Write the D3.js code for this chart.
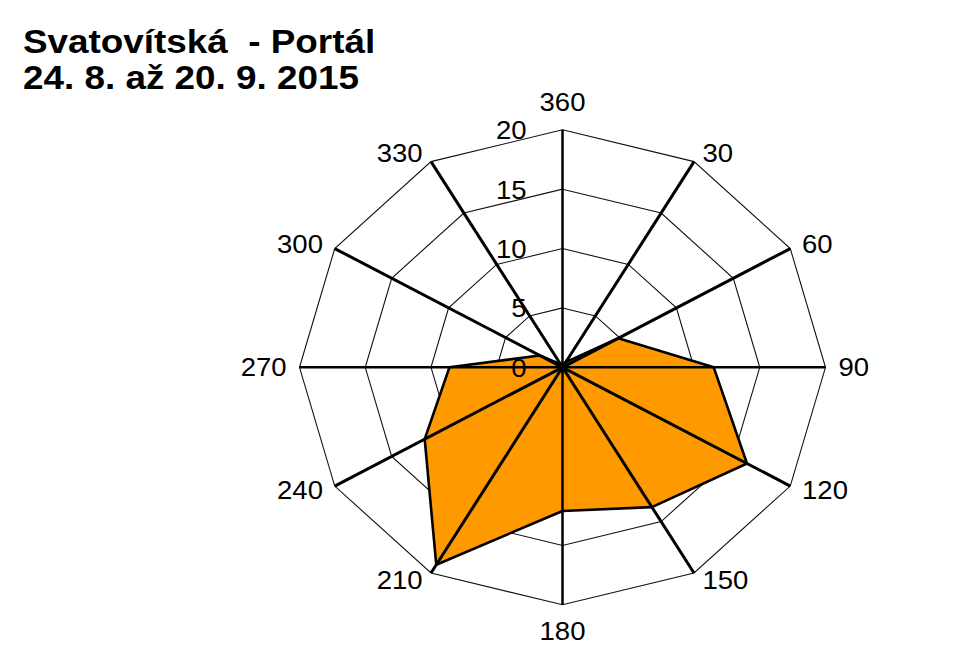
<!DOCTYPE html>
<html>
<head>
<meta charset="utf-8">
<script src="https://cdn.jsdelivr.net/npm/d3@7"></script>
<style>
  html, body { margin: 0; padding: 0; background: #fff; }
  svg { display: block; }
  text { font-family: "Liberation Sans", Arial, sans-serif; fill: #000; }
</style>
</head>
<body>
<svg id="chart" width="976" height="671"></svg>
<script>
// ---- data ----
const titleLines = ["Svatovítská  - Portál", "24. 8. až 20. 9. 2015"];
const directions = [0, 30, 60, 90, 120, 150, 180, 210, 240, 270, 300, 330];
const directionLabels = ["360", "30", "60", "90", "120", "150", "180", "210", "240", "270", "300", "330"];
const values = [0.3, 0.5, 4.9, 11.5, 16.2, 13.6, 12.1, 19.2, 12.1, 8.6, 2.0, 0.3];
const radialTicks = [0, 5, 10, 15, 20];

// ---- layout ----
const W = 976, H = 671;
const cx = 562.5, cy = 367.3;
const rMax = 20;
const sx = d3.scaleLinear().domain([0, rMax]).range([0, 263]);
const sy = d3.scaleLinear().domain([0, rMax]).range([0, 237.5]);
const stretch = 1.1;

const svg = d3.select("#chart");

function pt(deg, v) {
  const a = deg * Math.PI / 180;
  return [cx + sx(v) * Math.sin(a), cy - sy(v) * Math.cos(a)];
}

// title
const title = svg.append("g").attr("transform", `translate(23,0) scale(${stretch},1)`);
title.selectAll("text").data(titleLines).enter().append("text")
  .attr("x", 0)
  .attr("y", (d, i) => 53 + i * 36)
  .attr("font-size", 33.5)
  .attr("font-weight", "bold")
  .style("white-space", "pre")
  .attr("xml:space", "preserve")
  .text(d => d);

// rings (under polygon)
const ringLine = d3.line();
svg.append("g").selectAll("path").data(radialTicks.filter(t => t > 0)).enter().append("path")
  .attr("d", t => ringLine(directions.map(d => pt(d, t))) + "Z")
  .attr("fill", "none")
  .attr("stroke", "#111")
  .attr("stroke-width", 1.1);

// data polygon
svg.append("path")
  .attr("d", d3.line()(directions.map((d, i) => pt(d, values[i]))) + "Z")
  .attr("fill", "#ff9900")
  .attr("stroke", "#000")
  .attr("stroke-width", 2.6)
  .attr("stroke-linejoin", "round");

// spokes (over polygon)
svg.append("g").selectAll("line").data(directions).enter().append("line")
  .attr("x1", cx).attr("y1", cy)
  .attr("x2", d => pt(d, rMax)[0])
  .attr("y2", d => pt(d, rMax)[1])
  .attr("stroke", "#000")
  .attr("stroke-width", d => (d % 90 === 0 ? 2.5 : 3));

// radial tick labels
svg.append("g").selectAll("text").data(radialTicks).enter().append("text")
  .attr("transform", t => `translate(${cx - 36},${cy - sy(t) + 1}) scale(${stretch},1)`)
  .attr("text-anchor", "end")
  .attr("dominant-baseline", "central")
  .attr("font-size", 25)
  .text(t => t);

// direction labels
svg.append("g").selectAll("text").data(directions).enter().append("text")
  .each(function (d, i) {
    const a = d * Math.PI / 180;
    const [vx, vy] = pt(d, rMax);
    const s = Math.sin(a), c = Math.cos(a);
    let x, y, anchor;
    if (Math.abs(s) < 1e-6) {
      x = vx; anchor = "middle";
      y = vy + (c > 0 ? -27 : 27);
    } else {
      const off = 4 + 9 * Math.abs(s);
      x = vx + (s > 0 ? off : -off);
      anchor = s > 0 ? "start" : "end";
      y = vy - 9 * c;
    }
    d3.select(this)
      .attr("transform", `translate(${x},${y}) scale(${stretch},1)`)
      .attr("text-anchor", anchor)
      .attr("dominant-baseline", "central")
      .attr("font-size", 25)
      .text(directionLabels[i]);
  });
</script>
</body>
</html>
